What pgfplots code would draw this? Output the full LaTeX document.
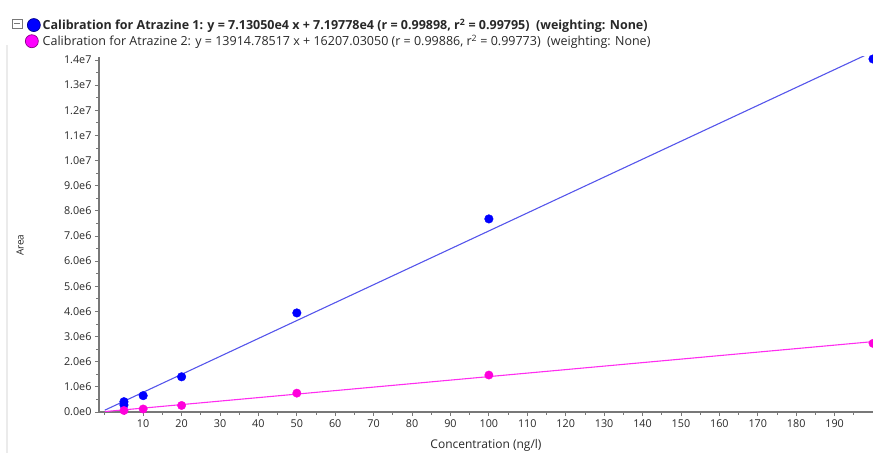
\documentclass[border=0pt]{standalone}
\usepackage{pgfplots}
\pgfplotsset{compat=1.18}
\usepackage{fontspec}
\setmainfont{Open Sans}
\definecolor{bluedot}{RGB}{0,0,255}
\definecolor{blueline}{RGB}{85,85,235}
\definecolor{pinkdot}{RGB}{255,0,220}
\definecolor{pinkline}{RGB}{255,45,240}
\definecolor{pinkleg}{RGB}{255,0,255}
\definecolor{axgray}{RGB}{120,120,120}
\definecolor{txt}{RGB}{40,40,40}
\begin{document}
\begin{tikzpicture}
\begin{axis}[
  scale only axis, width=774bp, height=355bp,
  xmin=-1.5, xmax=200, ymin=0, ymax=1.412e7,
  axis lines=left, axis line style={axgray, line width=1.5bp, -},
  tick align=outside, major tick length=4bp, minor tick length=2.5bp,
  tick style={axgray, line width=0.8bp},
  xtick={10,20,...,190}, minor xtick={0,5,...,195},
  ytick={0,1000000,2000000,3000000,4000000,5000000,6000000,7000000,8000000,9000000,10000000,11000000,12000000,13000000,14000000},
  minor ytick={500000,1500000,2500000,3500000,4500000,5500000,6500000,7500000,8500000,9500000,10500000,11500000,12500000,13500000},
  yticklabels={0.0e0,1.0e6,2.0e6,3.0e6,4.0e6,5.0e6,6.0e6,7.0e6,8.0e6,9.0e6,1.0e7,1.1e7,1.2e7,1.3e7,1.4e7},
  scaled y ticks=false,
  /pgf/number format/assume math mode=true,
  ticklabel style={font=\fontsize{10.8bp}{12bp}\selectfont, text=txt},
  xlabel={Concentration (ng/l)},
  xlabel style={font=\fontsize{12bp}{14bp}\selectfont, text=txt, at={(axis description cs:0.5,0)}, anchor=center, yshift=-33bp},
  ylabel={Area},
  ylabel style={font=\fontsize{10bp}{11bp}\selectfont, text=txt, at={(axis description cs:-0.102,0.47)}, anchor=center},
  legend style={at={(axis description cs:0,1)}, anchor=north west, xshift=-74bp, yshift=40bp,
    draw=none, fill=none, inner sep=0pt, outer sep=0pt, row sep=0bp,
    font=\fontsize{12.5bp}{14bp}\selectfont, text=txt, cells={anchor=west}},
  legend cell align=left,
]
\addplot[only marks, mark=*, mark size=4.3bp, color=bluedot,
  legend image code/.code={\draw[fill=bluedot, draw=blue!55!black, line width=0.7bp] (2bp,0) circle (6.5bp);}]
  coordinates {(5,410000) (5,280000) (10,650000) (20,1400000) (50,3940000) (100,7680000) (200,14040000)};
\addlegendentry{\textbf{Calibration for Atrazine 1: y = 7.13050e4 x + 7.19778e4 (r = 0.99898, r\textsuperscript{2} = 0.99795)\ \ (weighting: None)}}
\addplot[only marks, mark=*, mark size=4.2bp, color=pinkdot,
  legend image code/.code={\draw[fill=pinkleg, draw=pinkleg!55!black, line width=0.7bp] (0bp,0) circle (6.5bp);}]
  coordinates {(5,60000) (10,120000) (20,260000) (50,750000) (100,1470000) (200,2730000)};
\addlegendentry{Calibration for Atrazine 2: y = 13914.78517 x + 16207.03050 (r = 0.99886, r\textsuperscript{2} = 0.99773)\ \ (weighting: None)}
\addplot[blueline, line width=1.1bp, forget plot] coordinates {(0,71977.8) (200,14332977.8)};
\addplot[pinkline, line width=1.1bp, forget plot] coordinates {(0,16207.03) (200,2799164.06)};
\coordinate (BL) at (rel axis cs:0,0);
\coordinate (TR) at (rel axis cs:1,1);
\end{axis}
\draw[black!8, line width=1.5bp] ([shift={(-92bp,-41bp)}]BL) -- ([shift={(-92bp,367bp)}]BL);
\draw[axgray, line width=0.6bp] ([shift={(-87bp,29bp)}]BL |- TR) rectangle ([shift={(-77bp,38bp)}]BL |- TR);
\draw[axgray, line width=0.8bp] ([shift={(-85bp,33.5bp)}]BL |- TR) -- ([shift={(-79bp,33.5bp)}]BL |- TR);
\pgfresetboundingbox
\path ([shift={(-99bp,-41bp)}]BL) rectangle ([shift={(0bp,57bp)}]TR);
\end{tikzpicture}
\end{document}
